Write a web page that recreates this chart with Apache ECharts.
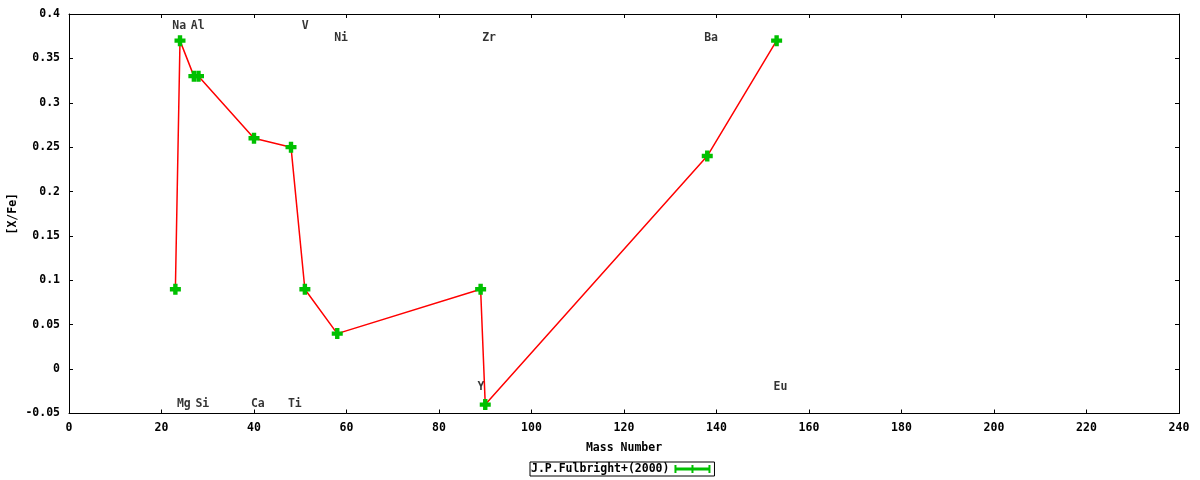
<!DOCTYPE html>
<html>
<head>
<meta charset="utf-8">
<title>[X/Fe] vs Mass Number</title>
<script src="https://cdn.jsdelivr.net/npm/echarts@6/dist/echarts.min.js"></script>
<style>
  html, body { margin: 0; padding: 0; background: #fff; }
  #chart { width: 1200px; height: 480px; }
</style>
</head>
<body>
<div id="chart"></div>
<script>
// abundance data, mass number vs [X/Fe]
var elements = ['Na', 'Mg', 'Al', 'Si', 'Ca', 'Ti', 'V', 'Ni', 'Y', 'Zr', 'Ba', 'Eu'];
var massNumber = [23, 24, 27, 28, 40, 48, 51, 58, 89, 90, 138, 153];
var xFe = [0.09, 0.37, 0.33, 0.33, 0.26, 0.25, 0.09, 0.04, 0.09, -0.04, 0.24, 0.37];

// element labels (gnuplot style set label)
var labelNames = ['Na', 'Al', 'V', 'Ni', 'Zr', 'Ba', 'Mg', 'Si', 'Ca', 'Ti', 'Y', 'Eu'];
var labelMass = [23, 27, 51, 58, 90, 138, 24, 28, 40, 48, 89, 153];
var labelHeight = [0.386, 0.386, 0.386, 0.373, 0.373, 0.373, -0.039, -0.039, -0.039, -0.039, -0.020, -0.020];

var seriesName = 'J.P.Fulbright+(2000)';

var FONT = '"DejaVu Sans Mono", "Liberation Mono", monospace';
var FS = 11.5;
var plus = 'path://M3,0H7V3H10V7H7V10H3V7H0V3H3Z';
var errIcon = 'path://M0,0H2V2.5H17V0H19V2.5H34V0H36V8H34V5.5H19V8H17V5.5H2V8H0Z';

var myChart = echarts.init(document.getElementById('chart'));

var points = massNumber.map(function (m, i) { return [m, xFe[i]]; });
var labels = labelNames.map(function (n, i) { return [labelMass[i], labelHeight[i], n]; });

function fmt(v) {
    return String(Math.round(v * 100) / 100);
}

var tickStyle = { show: true, inside: true, length: 4, lineStyle: { color: '#000' } };
var lineStyle = { show: true, onZero: false, lineStyle: { color: '#000', width: 1 } };
var textBase = { fontFamily: FONT, fontWeight: 'bold', fontSize: FS, color: '#000' };

var option = {
    backgroundColor: '#fff',
    animation: false,
    grid: { left: 69, right: 21, top: 14, bottom: 66.5, outerBoundsMode: 'none', containLabel: false },
    xAxis: [{
        type: 'value', min: 0, max: 240, interval: 20,
        name: 'Mass Number', nameLocation: 'middle', nameGap: 29, nameMoveOverlap: false,
        nameTextStyle: textBase,
        axisLine: lineStyle, axisTick: tickStyle, splitLine: { show: false },
        axisLabel: Object.assign({ margin: 9 }, textBase)
    }, {
        type: 'value', min: 0, max: 240, interval: 20, position: 'top',
        axisLine: lineStyle, axisTick: tickStyle, splitLine: { show: false },
        axisLabel: { show: false }
    }],
    yAxis: [{
        type: 'value', min: -0.05, max: 0.4, interval: 0.05,
        name: '[X/Fe]', nameLocation: 'middle', nameGap: 50, nameRotate: 90, nameMoveOverlap: false,
        nameTextStyle: textBase,
        axisLine: lineStyle, axisTick: tickStyle, splitLine: { show: false },
        axisLabel: Object.assign({ margin: 9, formatter: fmt }, textBase)
    }, {
        type: 'value', min: -0.05, max: 0.4, interval: 0.05, position: 'right',
        axisLine: lineStyle, axisTick: tickStyle, splitLine: { show: false },
        axisLabel: { show: false }
    }],
    legend: {
        data: [seriesName],
        left: 530, top: 462,
        align: 'right',
        icon: errIcon, itemWidth: 36, itemHeight: 8, itemGap: 0,
        padding: [1, 4, 1, 1],
        borderColor: '#000', borderWidth: 1, borderRadius: 0,
        itemStyle: { color: '#00c000', borderWidth: 0 },
        textStyle: textBase
    },
    series: [{
        name: seriesName,
        type: 'line',
        data: points,
        symbol: plus,
        symbolSize: 11,
        lineStyle: { color: '#ff0000', width: 1.5 },
        itemStyle: { color: '#00c000' },
        z: 3
    }, {
        name: 'labels',
        type: 'scatter',
        data: labels,
        symbolSize: 0.1,
        itemStyle: { color: 'rgba(0,0,0,0)' },
        silent: true,
        label: Object.assign({
            show: true,
            position: [-3, 0],
            align: 'left',
            verticalAlign: 'middle',
            formatter: function (p) { return p.data[2]; }
        }, textBase)
    }]
};

myChart.setOption(option);
</script>
</body>
</html>
